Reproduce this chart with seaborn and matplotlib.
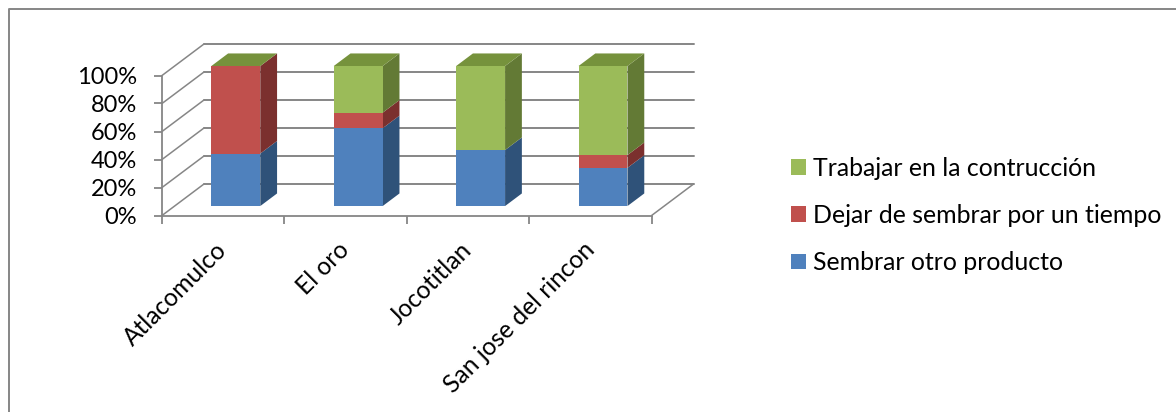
#!/usr/bin/env python
# -*- coding: utf-8 -*-

import matplotlib
matplotlib.use("Agg")
import matplotlib.pyplot as plt
import matplotlib.transforms as mtransforms
from matplotlib.lines import Line2D
from matplotlib.patches import Patch
from matplotlib.ticker import PercentFormatter
import numpy as np
import seaborn as sns

municipios = ["Atlacomulco", "El oro", "Jocotitlan", "San jose del rincon"]
sembrar_otro = [37.5, 55.6, 40.0, 27.3]
dejar_sembrar = [62.5, 11.1, 0.0, 9.1]
construccion = [0.0, 33.3, 60.0, 63.6]
series_names = ["Sembrar otro producto", "Dejar de sembrar por un tiempo", "Trabajar en la contrucción"]
y_ticks = [0, 20, 40, 60, 80, 100]

front_colors = ["#4F81BD", "#C0504D", "#9BBB59"]
side_colors = ["#2F5279", "#7B302E", "#637A35"]
top_color = "#76923C"
axis_color = "#868686"

# fake 3D: how far the back wall sits from the front plane, in data units
DEPTH_X = 0.343
DEPTH_Y = 22.5
BAR_WIDTH = 0.4
BAR_Z = (0.3, 0.7)

W, H = 1176, 412


def project(x, y, z):
    return x + DEPTH_X * z, y + DEPTH_Y * z


sns.set_theme(style="white")
plt.rcParams["font.family"] = ["Lato", "DejaVu Sans"]

fig = plt.figure(figsize=(W / 100, H / 100), dpi=100, facecolor="white")
ax = fig.add_axes([162 / W, (H - 215.5) / H, 489.6 / W, 140 / H])
ax.patch.set_visible(False)

# stacked front faces, moved back onto the plane where the bars stand
bottom = np.zeros(len(municipios))
for values, color in zip([sembrar_otro, dejar_sembrar, construccion], front_colors):
    sns.barplot(x=municipios, y=values, bottom=bottom, color=color, width=BAR_WIDTH,
                saturation=1, linewidth=0, zorder=4, ax=ax)
    for i, (v, b) in enumerate(zip(values, bottom)):
        xr = i + BAR_WIDTH / 2
        px, py = zip(project(xr, b, BAR_Z[0]), project(xr, b, BAR_Z[1]),
                     project(xr, b + v, BAR_Z[1]), project(xr, b + v, BAR_Z[0]))
        ax.fill(px, py, color=side_colors[front_colors.index(color)], lw=0, zorder=3, clip_on=False)
    bottom = bottom + np.array(values)

shift = mtransforms.Affine2D().translate(DEPTH_X * BAR_Z[0], DEPTH_Y * BAR_Z[0])
for bar in ax.patches:
    if bar.get_zorder() == 4:
        bar.set_transform(shift + ax.transData)
        bar.set_clip_on(False)

# top faces
for i in range(len(municipios)):
    xl, xr = i - BAR_WIDTH / 2, i + BAR_WIDTH / 2
    px, py = zip(project(xl, 100, BAR_Z[0]), project(xr, 100, BAR_Z[0]),
                 project(xr, 100, BAR_Z[1]), project(xl, 100, BAR_Z[1]))
    ax.fill(px, py, color=top_color, lw=0, zorder=3, clip_on=False)

x_left, x_right = -0.5, len(municipios) - 0.5

# walls: grid on the back, diagonals on the left side, floor edge on the right
for t in y_ticks:
    xa, ya = project(x_left, t, 1)
    xb, yb = project(x_right, t, 1)
    ax.plot([xa, xb], [ya, yb], color=axis_color, lw=1.4, zorder=1, clip_on=False)
    xa, ya = project(x_left, t, 0)
    xb, yb = project(x_left, t, 1)
    ax.plot([xa, xb], [ya, yb], color=axis_color, lw=1.1, zorder=1, clip_on=False)
xa, ya = project(x_right, 0, 0)
xb, yb = project(x_right, 0, 1)
ax.plot([xa, xb], [ya, yb], color=axis_color, lw=1.1, zorder=1, clip_on=False)

ax.set_xlim(x_left, x_right)
ax.set_ylim(0, 100)

for name, spine in ax.spines.items():
    spine.set_visible(name in ("left", "bottom"))
    spine.set_color(axis_color)
    spine.set_linewidth(1.3)

ax.set_yticks(y_ticks)
ax.yaxis.set_major_formatter(PercentFormatter(decimals=0))
ax.tick_params(axis="y", length=5.8, width=1.3, color=axis_color, pad=12,
               labelsize=17, labelcolor="black", left=True)

# ticks between the categories, names centred on them
ax.set_xticks(np.arange(x_left, x_right + 1))
ax.set_xticklabels([])
ax.set_xticks(np.arange(len(municipios)), minor=True)
ax.set_xticklabels(municipios, minor=True, rotation=45, ha="right", va="center",
                   rotation_mode="anchor")
ax.tick_params(axis="x", which="major", length=5.8, width=1.3, color=axis_color, bottom=True)
ax.tick_params(axis="x", which="minor", length=0, pad=22, labelsize=17.7, labelcolor="black")
ax.set_xlabel("")
ax.set_ylabel("")

handles = [Patch(facecolor=c, lw=0, label=n) for c, n in zip(front_colors, series_names)]
fig.legend(handles=handles[::-1], loc="center left", bbox_to_anchor=(791 / W, (H - 215.5) / H),
           frameon=False, fontsize=17.9, handlelength=0.6, handleheight=0.6,
           handletextpad=0.27, labelspacing=0.98, labelcolor="black", borderpad=0,
           borderaxespad=0)

# chart frame runs off the right and bottom of the picture
fig.add_artist(Line2D([8.5 / W, 8.5 / W, 1], [0, (H - 8.5) / H, (H - 8.5) / H],
                      color=axis_color, lw=1.4))

fig.savefig("out.png", dpi=100)
plt.close(fig)
